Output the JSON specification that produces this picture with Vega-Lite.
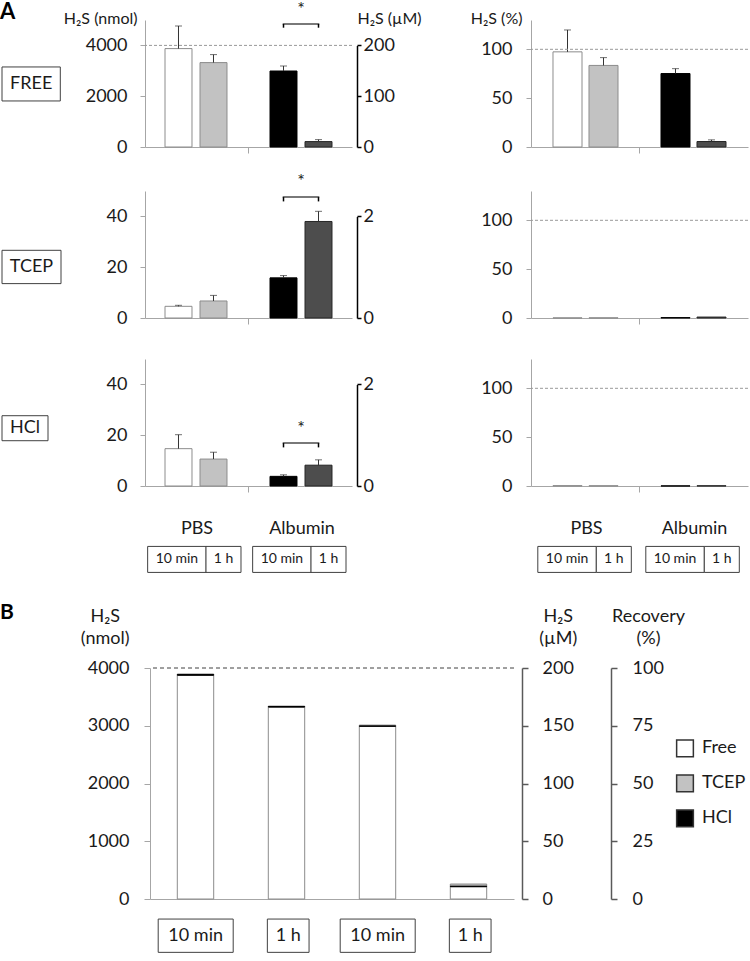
{
"$schema":"https://vega.github.io/schema/vega-lite/v6.json",
"background":"white",
"padding":{"left":0,"top":0,"right":0,"bottom":0},
"config":{
 "font":"Lato",
 "view":{"stroke":null},
 "axis":{"grid":false,"labelFont":"Lato","titleFont":"Lato","labelFontSize":18,"labelColor":"#1a1a1a","titleColor":"#1a1a1a","titleFontWeight":"normal","titleFontSize":16,"domainColor":"#a6a6a6","tickColor":"#a6a6a6","tickSize":5,"labelPadding":13},
 "title":{"font":"Lato","fontWeight":"bold","fontSize":22,"color":"#000"},
 "text":{"font":"Lato","color":"#1a1a1a"}
},
"datasets":{
 "A":[
  {"treat":"FREE","group":"PBS","time":"10 min","cond":"PBS 10 min","nmol":3874,"hi":4764,"pct":97.4,"pct_hi":119.8},
  {"treat":"FREE","group":"PBS","time":"1 h","cond":"PBS 1 h","nmol":3323,"hi":3638,"pct":83.5,"pct_hi":91.5},
  {"treat":"FREE","group":"Albumin","time":"10 min","cond":"Albumin 10 min","nmol":2992,"hi":3189,"pct":75.2,"pct_hi":80.2},
  {"treat":"FREE","group":"Albumin","time":"1 h","cond":"Albumin 1 h","nmol":213,"hi":291,"pct":5.6,"pct_hi":7.3},
  {"treat":"TCEP","group":"PBS","time":"10 min","cond":"PBS 10 min","nmol":4.6,"hi":5.0,"pct":0.12,"pct_hi":0.13},
  {"treat":"TCEP","group":"PBS","time":"1 h","cond":"PBS 1 h","nmol":6.7,"hi":8.9,"pct":0.17,"pct_hi":0.22},
  {"treat":"TCEP","group":"Albumin","time":"10 min","cond":"Albumin 10 min","nmol":15.8,"hi":16.7,"pct":0.4,"pct_hi":0.42},
  {"treat":"TCEP","group":"Albumin","time":"1 h","cond":"Albumin 1 h","nmol":38.0,"hi":42.0,"pct":0.95,"pct_hi":1.05},
  {"treat":"HCl","group":"PBS","time":"10 min","cond":"PBS 10 min","nmol":14.7,"hi":20.2,"pct":0.37,"pct_hi":0.5},
  {"treat":"HCl","group":"PBS","time":"1 h","cond":"PBS 1 h","nmol":10.6,"hi":13.3,"pct":0.27,"pct_hi":0.33},
  {"treat":"HCl","group":"Albumin","time":"10 min","cond":"Albumin 10 min","nmol":3.8,"hi":4.4,"pct":0.1,"pct_hi":0.11},
  {"treat":"HCl","group":"Albumin","time":"1 h","cond":"Albumin 1 h","nmol":8.2,"hi":10.3,"pct":0.21,"pct_hi":0.26}
 ],
 "sig":[
  {"treat":"FREE","cond":"Albumin 10 min","lo":4697,"hi":4843,"star":5197},
  {"treat":"FREE","cond":"Albumin 1 h","lo":4697,"hi":4843,"star":5197},
  {"treat":"TCEP","cond":"Albumin 10 min","lo":45.9,"hi":47.6,"star":51.7},
  {"treat":"TCEP","cond":"Albumin 1 h","lo":45.9,"hi":47.6,"star":51.7},
  {"treat":"HCl","cond":"Albumin 10 min","lo":15.2,"hi":16.9,"star":20.5},
  {"treat":"HCl","cond":"Albumin 1 h","lo":15.2,"hi":16.9,"star":20.5}
 ],
 "blank":[{"v":""}],
 "span":[{"a":0,"b":1}]
},
"spacing":-40,
"vconcat":[
 {"bounds":"flush","spacing":0,"hconcat":[
  {"width":59,"height":127,
   "data":{"values":[{"treat":"FREE"}]},
   "title":{"text":"A","anchor":"start","frame":"group","baseline":"alphabetic","offset":1.7,"dx":-2,"dy":22.4},
   "encoding":{
    "x":{"field":"treat","type":"nominal","scale":{"paddingInner":0,"paddingOuter":0.006,"align":0},"axis":null},
    "y":{"field":"treat","type":"nominal","scale":{"paddingInner":0.269,"paddingOuter":1,"align":0.505},"axis":null}},
   "layer":[
    {"mark":{"type":"rect","fill":"white","stroke":"#404040","strokeWidth":1}},
    {"mark":{"type":"text","fontSize":18},"encoding":{"text":{"field":"treat"}}}
   ]},
  {"width":84,"height":127,"data":{"name":"span"},"mark":{"type":"rule","opacity":0},
   "encoding":{"y":{"field":"a","type":"quantitative","scale":{"domain":[0,1],"range":[142,-20]},"axis":null},"y2":{"field":"b"}}},
  {"width":207,"height":127,
   "layer":[
    {"data":{"name":"A"},
     "transform":[{"filter":"datum.treat == 'FREE'"}],
     "encoding":{
      "x":{"field":"cond","type":"nominal","scale":{"domain":["PBS 10 min","PBS 1 h","gap","Albumin 10 min","Albumin 1 h"],"paddingInner":0.229,"paddingOuter":0.5716},"axis":{"title":null,"labels":false,"values":["gap"],"tickSize":6}}},
     "layer":[
      {"mark":{"type":"bar","strokeWidth":1},
       "encoding":{
        "y":{"field":"nmol","type":"quantitative","stack":null,"scale":{"domain":[0,5000]},"axis":{"values":[0,2000,4000],"format":"d","title":"H₂S (nmol)","titleAngle":0,"titleAlign":"right","titleBaseline":"top","titleX":-8,"titleY":-10}},
        "fill":{"field":"cond","type":"nominal","scale":{"domain":["PBS 10 min","PBS 1 h","Albumin 10 min","Albumin 1 h"],"range":["#ffffff","#c2c2c2","#000000","#4d4d4d"]},"legend":null},
        "stroke":{"field":"cond","type":"nominal","scale":{"domain":["PBS 10 min","PBS 1 h","Albumin 10 min","Albumin 1 h"],"range":["#8c8c8c","#8c8c8c","#000000","#262626"]},"legend":null}}},
      {"mark":{"type":"rule","color":"#333","strokeWidth":1},"encoding":{"y":{"field":"nmol","type":"quantitative"},"y2":{"field":"hi"}}},
      {"mark":{"type":"tick","color":"#333","size":7,"thickness":1,"orient":"horizontal"},"encoding":{"y":{"field":"hi","type":"quantitative"}}}
     ]},
    {"data":{"values":[{"ref":4000}]},"mark":{"type":"rule","color":"#999","strokeDash":[3,2],"strokeWidth":1},"encoding":{"y":{"field":"ref","type":"quantitative"}}},
    {"data":{"name":"sig"},"transform":[{"filter":"datum.treat == 'FREE'"}],"mark":{"type":"rule","color":"#000","strokeWidth":1.5},
     "encoding":{"x":{"field":"cond","type":"nominal"},"y":{"field":"lo","type":"quantitative"},"y2":{"field":"hi"}}},
    {"data":{"name":"sig"},"transform":[{"filter":"datum.treat == 'FREE' && datum.cond == 'Albumin 10 min'"}],"mark":{"type":"tick","color":"#000","size":36.6,"thickness":1.5,"orient":"horizontal","xOffset":17.5},
     "encoding":{"x":{"field":"cond","type":"nominal"},"y":{"field":"hi","type":"quantitative"}}},
    {"data":{"name":"sig"},"transform":[{"filter":"datum.treat == 'FREE' && datum.cond == 'Albumin 10 min'"}],"mark":{"type":"text","text":"*","fontSize":18,"baseline":"alphabetic","dx":17.5},
     "encoding":{"x":{"field":"cond","type":"nominal"},"y":{"field":"star","type":"quantitative"}}}
   ]},
  {"width":4,"height":127,"data":{"name":"blank"},"mark":{"type":"text"},"encoding":{"text":{"field":"v"}}},
  {"width":1,"height":127,"data":{"values":[{"v":0},{"v":200}]},"mark":{"type":"rule","opacity":0},
   "encoding":{"y":{"field":"v","type":"quantitative","scale":{"domain":[0,200],"range":[127,25.4]},"axis":{"orient":"right","values":[0,100,200],"format":"d","domainColor":"#000","domainWidth":1.5,"tickColor":"#000","tickSize":4,"tickWidth":1.5,"labelPadding":2,"title":"H₂S (µM)","titleAngle":0,"titleAlign":"left","titleBaseline":"top","titleX":0,"titleY":-10}}}},
  {"width":173.7,"height":127,"data":{"name":"blank"},"mark":{"type":"text"},"encoding":{"text":{"field":"v"}}},
  {"width":217,"height":127,
   "layer":[
    {"data":{"name":"A"},
     "transform":[{"filter":"datum.treat == 'FREE'"}],
     "encoding":{
      "x":{"field":"cond","type":"nominal","scale":{"domain":["PBS 10 min","PBS 1 h","gap","Albumin 10 min","Albumin 1 h"],"paddingInner":0.194,"paddingOuter":0.611},"axis":{"title":null,"labels":false,"values":["gap"],"tickSize":6}}},
     "layer":[
      {"mark":{"type":"bar","strokeWidth":1},
       "encoding":{
        "y":{"field":"pct","type":"quantitative","stack":null,"scale":{"domain":[0,125]},"axis":{"values":[0,50,100],"labelPadding":14,"title":"H₂S (%)","titleAngle":0,"titleAlign":"right","titleBaseline":"top","titleX":-9,"titleY":-10}},
        "fill":{"field":"cond","type":"nominal","scale":{"domain":["PBS 10 min","PBS 1 h","Albumin 10 min","Albumin 1 h"],"range":["#ffffff","#c2c2c2","#000000","#4d4d4d"]},"legend":null},
        "stroke":{"field":"cond","type":"nominal","scale":{"domain":["PBS 10 min","PBS 1 h","Albumin 10 min","Albumin 1 h"],"range":["#8c8c8c","#8c8c8c","#000000","#262626"]},"legend":null}}},
      {"mark":{"type":"rule","color":"#333","strokeWidth":1},"encoding":{"y":{"field":"pct","type":"quantitative"},"y2":{"field":"pct_hi"}}},
      {"mark":{"type":"tick","color":"#333","size":7,"thickness":1,"orient":"horizontal"},"encoding":{"y":{"field":"pct_hi","type":"quantitative"}}}
     ]},
    {"data":{"values":[{"ref":100}]},"mark":{"type":"rule","color":"#999","strokeDash":[3,2],"strokeWidth":1},"encoding":{"y":{"field":"ref","type":"quantitative"}}}
   ]}
 ]},
 {"bounds":"flush","spacing":0,"hconcat":[
  {"width":59,"height":127,
   "data":{"values":[{"treat":"TCEP"}]},
   "encoding":{
    "x":{"field":"treat","type":"nominal","scale":{"paddingInner":0,"paddingOuter":0,"align":0},"axis":null},
    "y":{"field":"treat","type":"nominal","scale":{"paddingInner":0.289,"paddingOuter":1,"align":0.633},"axis":null}},
   "layer":[
    {"mark":{"type":"rect","fill":"white","stroke":"#404040","strokeWidth":1}},
    {"mark":{"type":"text","fontSize":18},"encoding":{"text":{"field":"treat"}}}
   ]},
  {"width":84,"height":127,"data":{"name":"span"},"mark":{"type":"rule","opacity":0},
   "encoding":{"y":{"field":"a","type":"quantitative","scale":{"domain":[0,1],"range":[142,-68.7]},"axis":null},"y2":{"field":"b"}}},
  {"width":207,"height":127,
   "layer":[
    {"data":{"name":"A"},
     "transform":[{"filter":"datum.treat == 'TCEP'"}],
     "encoding":{
      "x":{"field":"cond","type":"nominal","scale":{"domain":["PBS 10 min","PBS 1 h","gap","Albumin 10 min","Albumin 1 h"],"paddingInner":0.229,"paddingOuter":0.5716},"axis":{"title":null,"labels":false,"values":["gap"],"tickSize":6}}},
     "layer":[
      {"mark":{"type":"bar","strokeWidth":1},
       "encoding":{
        "y":{"field":"nmol","type":"quantitative","stack":null,"scale":{"domain":[0,50]},"axis":{"values":[0,20,40],"title":null}},
        "fill":{"field":"cond","type":"nominal","scale":{"domain":["PBS 10 min","PBS 1 h","Albumin 10 min","Albumin 1 h"],"range":["#ffffff","#c2c2c2","#000000","#4d4d4d"]},"legend":null},
        "stroke":{"field":"cond","type":"nominal","scale":{"domain":["PBS 10 min","PBS 1 h","Albumin 10 min","Albumin 1 h"],"range":["#8c8c8c","#8c8c8c","#000000","#262626"]},"legend":null}}},
      {"mark":{"type":"rule","color":"#333","strokeWidth":1},"encoding":{"y":{"field":"nmol","type":"quantitative"},"y2":{"field":"hi"}}},
      {"mark":{"type":"tick","color":"#333","size":7,"thickness":1,"orient":"horizontal"},"encoding":{"y":{"field":"hi","type":"quantitative"}}}
     ]},
    {"data":{"name":"sig"},"transform":[{"filter":"datum.treat == 'TCEP'"}],"mark":{"type":"rule","color":"#000","strokeWidth":1.5},
     "encoding":{"x":{"field":"cond","type":"nominal"},"y":{"field":"lo","type":"quantitative"},"y2":{"field":"hi"}}},
    {"data":{"name":"sig"},"transform":[{"filter":"datum.treat == 'TCEP' && datum.cond == 'Albumin 10 min'"}],"mark":{"type":"tick","color":"#000","size":36.6,"thickness":1.5,"orient":"horizontal","xOffset":17.5},
     "encoding":{"x":{"field":"cond","type":"nominal"},"y":{"field":"hi","type":"quantitative"}}},
    {"data":{"name":"sig"},"transform":[{"filter":"datum.treat == 'TCEP' && datum.cond == 'Albumin 10 min'"}],"mark":{"type":"text","text":"*","fontSize":18,"baseline":"alphabetic","dx":17.5},
     "encoding":{"x":{"field":"cond","type":"nominal"},"y":{"field":"star","type":"quantitative"}}}
   ]},
  {"width":4,"height":127,"data":{"name":"blank"},"mark":{"type":"text"},"encoding":{"text":{"field":"v"}}},
  {"width":1,"height":127,"data":{"values":[{"v":0},{"v":2}]},"mark":{"type":"rule","opacity":0},
   "encoding":{"y":{"field":"v","type":"quantitative","scale":{"domain":[0,2],"range":[127,25.4]},"axis":{"orient":"right","values":[0,1,2],"format":"d","domainColor":"#000","domainWidth":1.5,"tickColor":"#000","tickSize":4,"tickWidth":1.5,"labelPadding":2,"title":null}}}},
  {"width":173.7,"height":127,"data":{"name":"blank"},"mark":{"type":"text"},"encoding":{"text":{"field":"v"}}},
  {"width":217,"height":127,
   "layer":[
    {"data":{"name":"A"},
     "transform":[{"filter":"datum.treat == 'TCEP'"}],
     "mark":{"type":"bar","strokeWidth":1},
     "encoding":{
      "x":{"field":"cond","type":"nominal","scale":{"domain":["PBS 10 min","PBS 1 h","gap","Albumin 10 min","Albumin 1 h"],"paddingInner":0.194,"paddingOuter":0.611},"axis":{"title":null,"labels":false,"values":["gap"],"tickSize":6}},
      "y":{"field":"pct","type":"quantitative","stack":null,"scale":{"domain":[0,125]},"axis":{"values":[0,50,100],"labelPadding":14,"title":null}},
      "fill":{"field":"cond","type":"nominal","scale":{"domain":["PBS 10 min","PBS 1 h","Albumin 10 min","Albumin 1 h"],"range":["#ffffff","#c2c2c2","#000000","#4d4d4d"]},"legend":null},
      "stroke":{"field":"cond","type":"nominal","scale":{"domain":["PBS 10 min","PBS 1 h","Albumin 10 min","Albumin 1 h"],"range":["#444444","#444444","#000000","#262626"]},"legend":null}}},
    {"data":{"values":[{"ref":100}]},"mark":{"type":"rule","color":"#999","strokeDash":[3,2],"strokeWidth":1},"encoding":{"y":{"field":"ref","type":"quantitative"}}}
   ]}
 ]},
 {"bounds":"flush","spacing":0,"hconcat":[
  {"width":59,"height":127,
   "data":{"values":[{"treat":"HCl"}]},
   "encoding":{
    "x":{"field":"treat","type":"nominal","scale":{"paddingInner":0,"paddingOuter":0.1413,"align":0},"axis":null},
    "y":{"field":"treat","type":"nominal","scale":{"paddingInner":0.51,"paddingOuter":1,"align":0.556},"axis":null}},
   "layer":[
    {"mark":{"type":"rect","fill":"white","stroke":"#404040","strokeWidth":1}},
    {"mark":{"type":"text","fontSize":18},"encoding":{"text":{"field":"treat"}}}
   ]},
  {"width":84,"height":127,"data":{"name":"span"},"mark":{"type":"rule","opacity":0},
   "encoding":{"y":{"field":"a","type":"quantitative","scale":{"domain":[0,1],"range":[142,-65.6]},"axis":null},"y2":{"field":"b"}}},
  {"width":207,"height":127,
   "layer":[
    {"data":{"name":"A"},
     "transform":[{"filter":"datum.treat == 'HCl'"}],
     "encoding":{
      "x":{"field":"cond","type":"nominal","scale":{"domain":["PBS 10 min","PBS 1 h","gap","Albumin 10 min","Albumin 1 h"],"paddingInner":0.229,"paddingOuter":0.5716},"axis":{"title":null,"labels":false,"values":["gap"],"tickSize":6}}},
     "layer":[
      {"mark":{"type":"bar","strokeWidth":1},
       "encoding":{
        "y":{"field":"nmol","type":"quantitative","stack":null,"scale":{"domain":[0,50]},"axis":{"values":[0,20,40],"title":null}},
        "fill":{"field":"cond","type":"nominal","scale":{"domain":["PBS 10 min","PBS 1 h","Albumin 10 min","Albumin 1 h"],"range":["#ffffff","#c2c2c2","#000000","#4d4d4d"]},"legend":null},
        "stroke":{"field":"cond","type":"nominal","scale":{"domain":["PBS 10 min","PBS 1 h","Albumin 10 min","Albumin 1 h"],"range":["#8c8c8c","#8c8c8c","#000000","#262626"]},"legend":null}}},
      {"mark":{"type":"rule","color":"#333","strokeWidth":1},"encoding":{"y":{"field":"nmol","type":"quantitative"},"y2":{"field":"hi"}}},
      {"mark":{"type":"tick","color":"#333","size":7,"thickness":1,"orient":"horizontal"},"encoding":{"y":{"field":"hi","type":"quantitative"}}}
     ]},
    {"data":{"name":"sig"},"transform":[{"filter":"datum.treat == 'HCl'"}],"mark":{"type":"rule","color":"#000","strokeWidth":1.5},
     "encoding":{"x":{"field":"cond","type":"nominal"},"y":{"field":"lo","type":"quantitative"},"y2":{"field":"hi"}}},
    {"data":{"name":"sig"},"transform":[{"filter":"datum.treat == 'HCl' && datum.cond == 'Albumin 10 min'"}],"mark":{"type":"tick","color":"#000","size":36.6,"thickness":1.5,"orient":"horizontal","xOffset":17.5},
     "encoding":{"x":{"field":"cond","type":"nominal"},"y":{"field":"hi","type":"quantitative"}}},
    {"data":{"name":"sig"},"transform":[{"filter":"datum.treat == 'HCl' && datum.cond == 'Albumin 10 min'"}],"mark":{"type":"text","text":"*","fontSize":18,"baseline":"alphabetic","dx":17.5},
     "encoding":{"x":{"field":"cond","type":"nominal"},"y":{"field":"star","type":"quantitative"}}}
   ]},
  {"width":4,"height":127,"data":{"name":"blank"},"mark":{"type":"text"},"encoding":{"text":{"field":"v"}}},
  {"width":1,"height":127,"data":{"values":[{"v":0},{"v":2}]},"mark":{"type":"rule","opacity":0},
   "encoding":{"y":{"field":"v","type":"quantitative","scale":{"domain":[0,2],"range":[127,25.4]},"axis":{"orient":"right","values":[0,1,2],"format":"d","domainColor":"#000","domainWidth":1.5,"tickColor":"#000","tickSize":4,"tickWidth":1.5,"labelPadding":2,"title":null}}}},
  {"width":173.7,"height":127,"data":{"name":"blank"},"mark":{"type":"text"},"encoding":{"text":{"field":"v"}}},
  {"width":217,"height":127,
   "layer":[
    {"data":{"name":"A"},
     "transform":[{"filter":"datum.treat == 'HCl'"}],
     "mark":{"type":"bar","strokeWidth":1},
     "encoding":{
      "x":{"field":"cond","type":"nominal","scale":{"domain":["PBS 10 min","PBS 1 h","gap","Albumin 10 min","Albumin 1 h"],"paddingInner":0.194,"paddingOuter":0.611},"axis":{"title":null,"labels":false,"values":["gap"],"tickSize":6}},
      "y":{"field":"pct","type":"quantitative","stack":null,"scale":{"domain":[0,125]},"axis":{"values":[0,50,100],"labelPadding":14,"title":null}},
      "fill":{"field":"cond","type":"nominal","scale":{"domain":["PBS 10 min","PBS 1 h","Albumin 10 min","Albumin 1 h"],"range":["#ffffff","#c2c2c2","#000000","#4d4d4d"]},"legend":null},
      "stroke":{"field":"cond","type":"nominal","scale":{"domain":["PBS 10 min","PBS 1 h","Albumin 10 min","Albumin 1 h"],"range":["#444444","#444444","#000000","#262626"]},"legend":null}}},
    {"data":{"values":[{"ref":100}]},"mark":{"type":"rule","color":"#999","strokeDash":[3,2],"strokeWidth":1},"encoding":{"y":{"field":"ref","type":"quantitative"}}}
   ]}
 ]},
 {"bounds":"flush","spacing":0,"hconcat":[
  {"width":71.5,"height":86,"data":{"name":"blank"},"mark":{"type":"text"},"encoding":{"text":{"field":"v"}}},
  {"width":71.5,"height":86,"data":{"name":"span"},"mark":{"type":"rule","opacity":0},
   "encoding":{"y":{"field":"a","type":"quantitative","scale":{"domain":[0,1],"range":[101,-25]},"axis":null},"y2":{"field":"b"}}},
  {"width":207,"height":86,
   "data":{"name":"A"},
   "transform":[{"filter":"datum.treat == 'HCl'"}],
   "encoding":{
    "x":{"field":"cond","type":"nominal","scale":{"domain":["PBS 10 min","PBS 1 h","gap","Albumin 10 min","Albumin 1 h"],"paddingInner":0.229,"paddingOuter":0.5716},"axis":null},
    "y":{"field":"treat","type":"nominal","scale":{"paddingInner":0.133,"paddingOuter":1,"align":0.757},"axis":null}},
   "layer":[
    {"transform":[{"filter":"datum.time == '10 min'"}],"mark":{"type":"text","fontSize":18,"dx":17.5,"yOffset":-30.7},"encoding":{"text":{"field":"group"}}},
    {"transform":[{"filter":"datum.time == '10 min'"}],"mark":{"type":"rect","width":58.5,"fill":"white","stroke":"#404040","strokeWidth":1,"xOffset":-2.6}},
    {"transform":[{"filter":"datum.time == '1 h'"}],"mark":{"type":"rect","width":35,"fill":"white","stroke":"#404040","strokeWidth":1,"xOffset":9}},
    {"transform":[{"filter":"datum.time == '10 min'"}],"mark":{"type":"text","fontSize":14,"dx":-2.6},"encoding":{"text":{"field":"time"}}},
    {"transform":[{"filter":"datum.time == '1 h'"}],"mark":{"type":"text","fontSize":14,"dx":9},"encoding":{"text":{"field":"time"}}}
   ]},
  {"width":178.7,"height":86,"data":{"name":"blank"},"mark":{"type":"text"},"encoding":{"text":{"field":"v"}}},
  {"width":217,"height":86,
   "data":{"name":"A"},
   "transform":[{"filter":"datum.treat == 'HCl'"}],
   "encoding":{
    "x":{"field":"cond","type":"nominal","scale":{"domain":["PBS 10 min","PBS 1 h","gap","Albumin 10 min","Albumin 1 h"],"paddingInner":0.194,"paddingOuter":0.611},"axis":null},
    "y":{"field":"treat","type":"nominal","scale":{"paddingInner":0.133,"paddingOuter":1,"align":0.757},"axis":null}},
   "layer":[
    {"transform":[{"filter":"datum.time == '10 min'"}],"mark":{"type":"text","fontSize":18,"dx":18,"yOffset":-30.7},"encoding":{"text":{"field":"group"}}},
    {"transform":[{"filter":"datum.time == '10 min'"}],"mark":{"type":"rect","width":58.5,"fill":"white","stroke":"#404040","strokeWidth":1,"xOffset":-1.45}},
    {"transform":[{"filter":"datum.time == '1 h'"}],"mark":{"type":"rect","width":35,"fill":"white","stroke":"#404040","strokeWidth":1,"xOffset":9.3}},
    {"transform":[{"filter":"datum.time == '10 min'"}],"mark":{"type":"text","fontSize":14,"dx":-1.45},"encoding":{"text":{"field":"time"}}},
    {"transform":[{"filter":"datum.time == '1 h'"}],"mark":{"type":"text","fontSize":14,"dx":9.3},"encoding":{"text":{"field":"time"}}}
   ]}
 ]},
 {"bounds":"flush","spacing":0,"hconcat":[
  {"width":12,"height":231,"data":{"name":"blank"},"mark":{"type":"text"},"encoding":{"text":{"field":"v"}},
   "title":{"text":"B","anchor":"start","frame":"group","baseline":"alphabetic","offset":50,"dx":-2,"dy":22,"fontSize":21}},
  {"width":135.3,"height":231,"data":{"name":"span"},"mark":{"type":"rule","opacity":0},
   "encoding":{"y":{"field":"a","type":"quantitative","scale":{"domain":[0,1],"range":[246,-105.4]},"axis":null},"y2":{"field":"b"}}},
  {"width":364,"height":231,
   "layer":[
    {"data":{"name":"A"},
     "mark":{"type":"bar","strokeWidth":1},
     "encoding":{
      "x":{"field":"cond","type":"nominal","sort":null,"scale":{"paddingInner":0.6,"paddingOuter":0.3},"axis":{"title":null,"labels":false,"ticks":false}},
      "y":{"field":"nmol","type":"quantitative","stack":"zero","scale":{"domain":[0,4000]},"axis":{"values":[0,1000,2000,3000,4000],"format":"d","tickSize":6,"labelPadding":15,"title":["H₂S","(nmol)"],"titleAngle":0,"titleAlign":"center","titleBaseline":"top","titleX":-45.3,"titleY":-61,"titleLineHeight":22,"titleFontSize":18}},
      "order":{"field":"treat","sort":"ascending"},
      "fill":{"field":"treat","type":"nominal","scale":{"domain":["FREE","TCEP","HCl"],"range":["#ffffff","#7f7f7f","#000000"]},"legend":null},
      "stroke":{"field":"treat","type":"nominal","scale":{"domain":["FREE","TCEP","HCl"],"range":["#a6a6a6","#555555","#000000"]},"legend":null}}},
    {"data":{"values":[{"ref":4000}]},"mark":{"type":"rule","color":"#404040","strokeDash":[4,3],"strokeWidth":1},"encoding":{"y":{"field":"ref","type":"quantitative"}}}
   ]},
  {"width":7,"height":231,"data":{"name":"blank"},"mark":{"type":"text"},"encoding":{"text":{"field":"v"}}},
  {"width":1,"height":231,"data":{"values":[{"v":0},{"v":200}]},"mark":{"type":"rule","opacity":0},
   "encoding":{"y":{"field":"v","type":"quantitative","scale":{"domain":[0,200]},"axis":{"orient":"right","values":[0,50,100,150,200],"domainColor":"#595959","tickColor":"#595959","domainWidth":1.5,"tickWidth":1.5,"tickSize":6,"labelPadding":14,"title":["H₂S","(µM)"],"titleAngle":0,"titleAlign":"center","titleBaseline":"top","titleX":35.7,"titleY":-61,"titleLineHeight":22,"titleFontSize":18}}}},
  {"width":87.7,"height":231,"data":{"name":"blank"},"mark":{"type":"text"},"encoding":{"text":{"field":"v"}}},
  {"width":1,"height":231,"data":{"values":[{"v":0},{"v":100}]},"mark":{"type":"rule","opacity":0},
   "encoding":{"y":{"field":"v","type":"quantitative","scale":{"domain":[0,100]},"axis":{"orient":"right","values":[0,25,50,75,100],"domainColor":"#595959","tickColor":"#595959","domainWidth":1.5,"tickWidth":1.5,"tickSize":6,"labelPadding":15,"title":["Recovery","(%)"],"titleAngle":0,"titleAlign":"center","titleBaseline":"top","titleX":37,"titleY":-61,"titleLineHeight":22,"titleFontSize":18}}}},
  {"width":65,"height":231,"data":{"name":"blank"},"mark":{"type":"text"},"encoding":{"text":{"field":"v"}}},
  {"width":18,"height":175,
   "data":{"values":[{"treat":"FREE","lab":"Free"},{"treat":"TCEP","lab":"TCEP"},{"treat":"HCl","lab":"HCl"}]},
   "encoding":{"y":{"field":"treat","type":"nominal","sort":null,"scale":{"type":"band","paddingInner":0,"paddingOuter":1,"align":0.897},"axis":null}},
   "layer":[
    {"mark":{"type":"square","size":280,"filled":true,"opacity":1,"stroke":"#333","strokeWidth":1.5},
     "encoding":{"fill":{"field":"treat","type":"nominal","scale":{"domain":["FREE","TCEP","HCl"],"range":["#ffffff","#7f7f7f","#000000"]},"legend":null}}},
    {"mark":{"type":"text","align":"left","dx":17,"fontSize":18,"baseline":"middle"},"encoding":{"text":{"field":"lab"}}}
   ]}
 ]},
 {"bounds":"flush","spacing":0,"hconcat":[
  {"width":73.65,"height":78,"data":{"name":"blank"},"mark":{"type":"text"},"encoding":{"text":{"field":"v"}}},
  {"width":73.65,"height":78,"data":{"name":"span"},"mark":{"type":"rule","opacity":0},
   "encoding":{"y":{"field":"a","type":"quantitative","scale":{"domain":[0,1],"range":[93,-25]},"axis":null},"y2":{"field":"b"}}},
  {"width":364,"height":78,
   "data":{"name":"A"},
   "transform":[{"filter":"datum.treat == 'FREE'"}],
   "encoding":{
    "x":{"field":"group","type":"nominal","sort":null,"scale":{"paddingInner":0,"paddingOuter":0},"axis":null},
    "y":{"field":"treat","type":"nominal","scale":{"paddingInner":0,"paddingOuter":0.671,"align":0.113},"axis":null}},
   "layer":[
    {"transform":[{"filter":"datum.time == '10 min'"}],"mark":{"type":"rect","width":75,"fill":"white","stroke":"#404040","strokeWidth":1,"xOffset":-45.3}},
    {"transform":[{"filter":"datum.time == '1 h'"}],"mark":{"type":"rect","width":41.7,"fill":"white","stroke":"#404040","strokeWidth":1,"xOffset":47.2}},
    {"transform":[{"filter":"datum.time == '10 min'"}],"mark":{"type":"text","fontSize":18,"dx":-45.3},"encoding":{"text":{"field":"time"}}},
    {"transform":[{"filter":"datum.time == '1 h'"}],"mark":{"type":"text","fontSize":18,"dx":47.2},"encoding":{"text":{"field":"time"}}},
    {"transform":[{"filter":"datum.time == '10 min'"}],"mark":{"type":"tick","orient":"horizontal","size":150.5,"thickness":3,"color":"#000","xOffset":-7,"yOffset":29.9}},
    {"transform":[{"filter":"datum.time == '10 min'"}],"mark":{"type":"text","fontSize":18,"yOffset":48.6},"encoding":{"text":{"field":"group"}}}
   ]}
 ]}
]
}
